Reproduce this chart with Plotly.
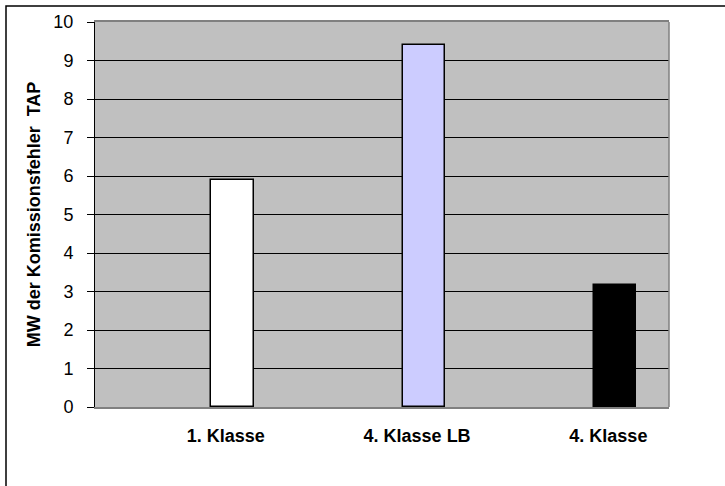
import plotly.graph_objects as go

categories = ["1. Klasse", "4. Klasse LB", "4. Klasse"]
values = [5.9, 9.4, 3.16]
y_title = "MW der Komissionsfehler  TAP"
y_ticks = list(range(0, 11))

bar_colors = ["#FFFFFF", "#CCCCFF", "#000000"]
FONT = "Liberation Sans, Arial, sans-serif"

xpos = list(range(len(categories)))

fig = go.Figure()
fig.add_trace(go.Bar(
    x=xpos, y=values, width=0.22,
    marker=dict(color=bar_colors, line=dict(color="#000000", width=1.5)),
    showlegend=False, hoverinfo="skip",
))

fig.update_layout(
    width=725, height=486,
    margin=dict(l=95, r=56, t=22, b=79, pad=0),
    paper_bgcolor="#FFFFFF",
    plot_bgcolor="#C0C0C0",
    font=dict(family=FONT, size=18, color="#000000"),
    bargap=0,
    xaxis=dict(
        range=[-0.719, 2.282],
        tickvals=[p - 0.035 for p in xpos],
        ticktext=[f"<b>{c}</b>" for c in categories],
        ticks="", showgrid=False, zeroline=False,
        showline=True, linecolor="#808080", linewidth=1.5, mirror=True,
        ticklabelstandoff=12,
        tickfont=dict(size=18),
    ),
    yaxis=dict(
        range=[0, 10],
        tickvals=y_ticks,
        ticks="outside", ticklen=7, tickcolor="#000000", tickwidth=1,
        showgrid=True, gridcolor="#000000", gridwidth=1,
        zeroline=False,
        showline=True, linecolor="#000000", linewidth=1,
        ticklabelstandoff=10,
        tickfont=dict(size=18),
        title=dict(text=f"<b>{y_title}</b>", font=dict(size=18), standoff=8),
    ),
    shapes=[
        dict(type="line", xref="paper", yref="paper", x0=1, x1=1, y0=0, y1=1,
             line=dict(color="#808080", width=1.5)),
        dict(type="rect", xref="paper", yref="paper",
             x0=(6 - 95) / 574, x1=(740 - 95) / 574,
             y0=(407 - 500) / 385, y1=(407 - 6) / 385,
             line=dict(color="#000000", width=1.5), fillcolor="rgba(0,0,0,0)",
             layer="above"),
    ],
)

fig.write_html("out.html")
